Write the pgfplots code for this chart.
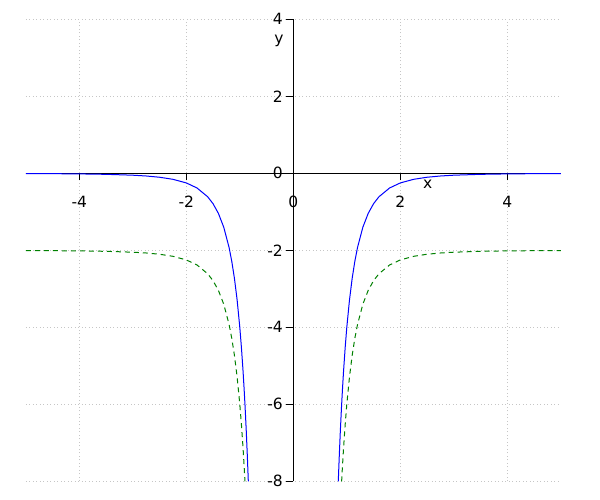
\documentclass[border=0pt]{standalone}
\usepackage{pgfplots}
\pgfplotsset{compat=1.18}
\usepackage{fontspec}
\setmainfont{DejaVu Sans}
\definecolor{dgreen}{rgb}{0,0.5,0}
\begin{document}
\begin{tikzpicture}
\begin{axis}[
  at={(0,0)}, anchor=south west,
  scale only axis, width=535pt, height=462pt,
  xmin=-5, xmax=5, ymin=-8, ymax=4,
  axis lines=middle, axis line style={-, line width=0.8pt},
  xtick={-4,-2,0,2,4}, xticklabels={-4,-2,0,2,4},
  ytick={-8,-6,-4,-2,0,2,4}, yticklabels={-8,-6,-4,-2,0,2,4},
  hide obscured x ticks=false, hide obscured y ticks=false,
  tick align=outside, major tick length=7pt,
  tick style={black, line width=0.8pt},
  ticklabel style={font=\fontsize{15.5}{18}\selectfont},
  xticklabel style={yshift=-12pt},
  grid=major, grid style={gray!45, dash pattern=on 1pt off 2.5pt, line width=0.6pt},
  xlabel={x}, ylabel={y},
  xlabel style={at={(axis cs:2.51,-0.28)}, anchor=center, font=\fontsize{15.5}{18}\selectfont},
  ylabel style={at={(axis cs:-0.27,3.44)}, anchor=center, rotate=0, font=\fontsize{15.5}{18}\selectfont},
  clip=true,
]
\addplot[blue, line width=1pt] coordinates {
(-5,-0.0064) (-4.5,-0.00975) (-4,-0.015625) (-3.5,-0.02666) (-3,-0.04938)
(-2.75,-0.06994) (-2.5,-0.1024) (-2.25,-0.1561) (-2,-0.25) (-1.8,-0.381)
(-1.6,-0.6104) (-1.5,-0.7901) (-1.4,-1.0412) (-1.3,-1.4005) (-1.2,-1.929)
(-1.15,-2.287) (-1.1,-2.732) (-1.05,-3.291) (-1.0,-4) (-0.97,-4.518)
(-0.94,-5.123) (-0.92,-5.584) (-0.9,-6.097) (-0.88,-6.670) (-0.86,-7.313) (-0.8409,-8)
};
\addplot[blue, line width=1pt] coordinates {
(0.8409,-8) (0.86,-7.313) (0.88,-6.670) (0.9,-6.097) (0.92,-5.584) (0.94,-5.123)
(0.97,-4.518) (1.0,-4) (1.05,-3.291) (1.1,-2.732) (1.15,-2.287) (1.2,-1.929)
(1.3,-1.4005) (1.4,-1.0412) (1.5,-0.7901) (1.6,-0.6104) (1.8,-0.381) (2,-0.25)
(2.25,-0.1561) (2.5,-0.1024) (2.75,-0.06994) (3,-0.04938) (3.5,-0.02666)
(4,-0.015625) (4.5,-0.00975) (5,-0.0064)
};
\addplot[dgreen, line width=1pt, dash pattern=on 5pt off 4pt] coordinates {
(-5,-2.0064) (-4.5,-2.00975) (-4,-2.015625) (-3.5,-2.02666) (-3,-2.04938)
(-2.75,-2.06994) (-2.5,-2.1024) (-2.25,-2.1561) (-2,-2.25) (-1.8,-2.381)
(-1.6,-2.6104) (-1.5,-2.7901) (-1.4,-3.0412) (-1.3,-3.4005) (-1.2,-3.929)
(-1.15,-4.287) (-1.1,-4.732) (-1.05,-5.291) (-1.0,-6) (-0.97,-6.518)
(-0.94,-7.123) (-0.92,-7.584) (-0.91,-7.833) (-0.9036,-8)
};
\addplot[dgreen, line width=1pt, dash pattern=on 5pt off 4pt] coordinates {
(0.9036,-8) (0.91,-7.833) (0.92,-7.584) (0.94,-7.123) (0.97,-6.518) (1.0,-6)
(1.05,-5.291) (1.1,-4.732) (1.15,-4.287) (1.2,-3.929) (1.3,-3.4005) (1.4,-3.0412)
(1.5,-2.7901) (1.6,-2.6104) (1.8,-2.381) (2,-2.25) (2.25,-2.1561) (2.5,-2.1024)
(2.75,-2.06994) (3,-2.04938) (3.5,-2.02666) (4,-2.015625) (4.5,-2.00975) (5,-2.0064)
};
\end{axis}
\pgfresetboundingbox
\path[use as bounding box] (-25.8pt,-18.7pt) rectangle (574.2pt,481.3pt);
\end{tikzpicture}
\end{document}
